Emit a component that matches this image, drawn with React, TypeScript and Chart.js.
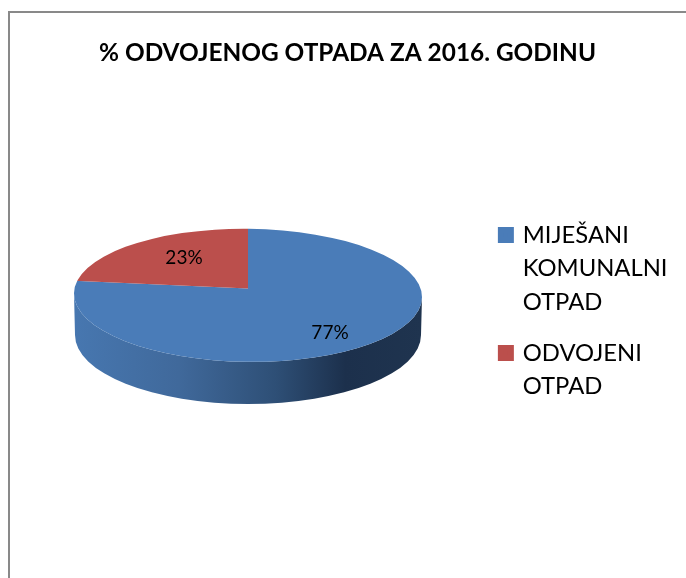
import React, { useEffect, useRef } from "react";
import { Chart, registerables } from "chart.js";

Chart.register(...registerables);

const titleText = "% ODVOJENOG OTPADA ZA 2016. GODINU";
const categories = [["MIJEŠANI", "KOMUNALNI", "OTPAD"], ["ODVOJENI", "OTPAD"]];
const values = [77, 23];
const sliceColors = ["#4a7cb8", "#bb4f4c"];
const labelOffsets = [[82, 44], [-64, -31]];
const wallStops: [number, string][] = [
  [0, "#4777b0"],
  [0.3, "#40699b"],
  [0.58, "#2e4f76"],
  [0.78, "#1c304c"],
  [1, "#1f344f"],
];

const FONT = "Lato";
const APEX_X = 248;
const APEX_Y = 288.5;
const RIM_CY = 295.3;
const RIM_RY = 66.5;
const TILT = 0.0115;
const BASE_CY = 335;
const BASE_RX = 173;
const BASE_RY = 69;
const OVERSCAN = 1.3;
const PERSPECTIVE = 0.347;

const pie3d = {
  id: "pie3d",
  afterLayout(chart: any) {
    const l = chart.legend;
    l.top += 84;
    l.bottom += 84;
    l.left -= 8.5;
    l.right -= 8.5;
  },
  beforeDraw(chart: any) {
    const { ctx } = chart;
    ctx.save();
    ctx.strokeStyle = "#898989";
    ctx.lineWidth = 2;
    ctx.strokeRect(9, 12, 900, 900);
    ctx.restore();
  },
  beforeDatasetsDraw(chart: any) {
    const { ctx } = chart;
    const arc = chart.getDatasetMeta(0).data[0];
    const rx = arc.outerRadius;
    const g = ctx.createLinearGradient(APEX_X - rx, 0, APEX_X + rx, 0);
    wallStops.forEach(([p, c]) => g.addColorStop(p, c));
    ctx.save();
    ctx.fillStyle = g;
    ctx.beginPath();
    ctx.ellipse(APEX_X, RIM_CY, rx, RIM_RY, TILT, 0, Math.PI);
    ctx.ellipse(APEX_X, BASE_CY, BASE_RX, BASE_RY, 0, Math.PI, 0, true);
    ctx.closePath();
    ctx.fill();
    ctx.restore();

    ctx.save();
    ctx.beginPath();
    ctx.ellipse(APEX_X, RIM_CY, rx, RIM_RY, TILT, 0, Math.PI * 2);
    ctx.clip();
    ctx.translate(APEX_X, APEX_Y);
    ctx.scale(OVERSCAN, OVERSCAN * PERSPECTIVE);
    ctx.translate(-arc.x, -arc.y);
  },
  afterDatasetsDraw(chart: any) {
    const { ctx } = chart;
    ctx.restore();
    const sum = values.reduce((a, b) => a + b, 0);
    ctx.save();
    ctx.fillStyle = "#000";
    ctx.font = `19px ${FONT}`;
    ctx.textAlign = "center";
    ctx.textBaseline = "middle";
    values.forEach((v, i) => {
      const [dx, dy] = labelOffsets[i];
      ctx.fillText(`${Math.round((v / sum) * 100)}%`, APEX_X + dx, APEX_Y + dy);
    });
    ctx.restore();
  },
};

export default function App() {
  const ref = useRef<HTMLCanvasElement>(null);
  useEffect(() => {
    const chart = new Chart(ref.current!, {
      type: "pie",
      data: {
        labels: categories as any,
        datasets: [{ data: values, backgroundColor: sliceColors, borderWidth: 0 }],
      },
      options: {
        animation: false,
        responsive: false,
        layout: { padding: { left: 9, right: 0, top: 0, bottom: 115 } },
        plugins: {
          tooltip: { enabled: false },
          title: {
            display: true,
            text: titleText,
            color: "#000",
            font: { family: FONT, size: 24.4, weight: "bold" },
            padding: { top: 38.4, bottom: 47.3 },
          },
          legend: {
            position: "right",
            labels: {
              boxWidth: 10,
              boxHeight: 10,
              padding: 17.5,
              color: "#000",
              font: { family: FONT, size: 23.8, lineHeight: 33.5 / 23.8 },
              generateLabels: (c: any) =>
                c.data.labels.map((text: any, i: number) => ({
                  text,
                  fillStyle: sliceColors[i],
                  strokeStyle: sliceColors[i],
                  lineWidth: 6,
                  hidden: false,
                  index: i,
                })),
            },
          },
        },
      } as any,
      plugins: [pie3d],
    });
    return () => chart.destroy();
  }, []);
  return (
    <canvas
      ref={ref}
      width={686}
      height={578}
      style={{ position: "absolute", left: 0, top: 0, display: "block" }}
    />
  );
}
